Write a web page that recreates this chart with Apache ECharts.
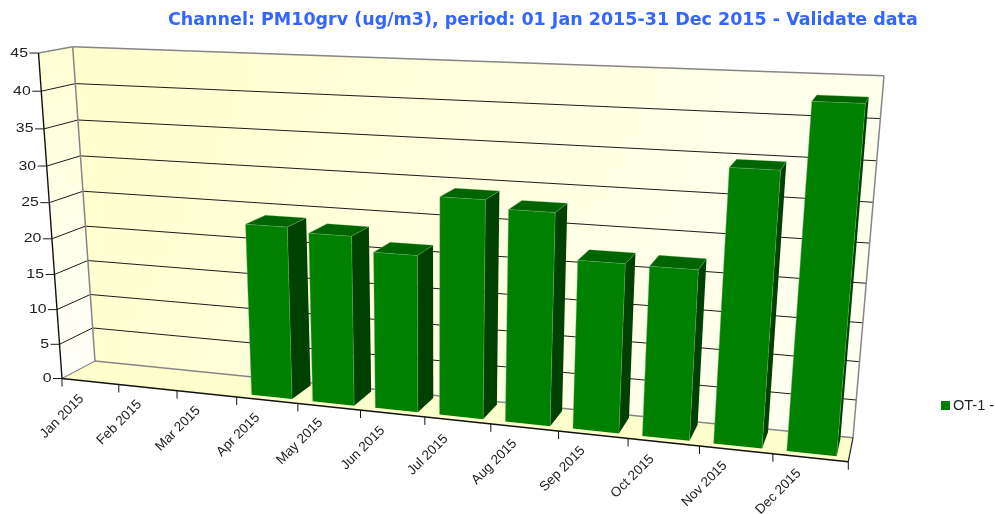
<!DOCTYPE html>
<html><head><meta charset="utf-8">
<style>html,body{margin:0;padding:0;background:#fff;overflow:hidden}#c{width:995px;height:514px}</style>
<script src="https://cdn.jsdelivr.net/npm/echarts@6/dist/echarts.min.js"></script>
</head><body><div id="c"></div>
<script>
const categories = ['Jan 2015','Feb 2015','Mar 2015','Apr 2015','May 2015','Jun 2015','Jul 2015','Aug 2015','Sep 2015','Oct 2015','Nov 2015','Dec 2015'];
const seriesValues = [null,null,null,23.6,23,21.1,28.85,27.8,22,21.9,34.5,42.6];
const yTicks = [0,5,10,15,20,25,30,35,40,45];
const seriesName = 'OT-1 -';
const titleText = 'Channel: PM10grv (ug/m3), period: 01 Jan 2015-31 Dec 2015 - Validate data';

function homography(p){
  const [x0,y0]=p[0],[x1,y1]=p[1],[x2,y2]=p[2],[x3,y3]=p[3];
  const dx1=x1-x2,dx2=x3-x2,sx=x0-x1+x2-x3,dy1=y1-y2,dy2=y3-y2,sy=y0-y1+y2-y3;
  const den=dx1*dy2-dx2*dy1,g=(sx*dy2-dx2*sy)/den,h=(dx1*sy-sx*dy1)/den;
  const a=x1-x0+g*x1,b=x3-x0+h*x3,d=y1-y0+g*y1,e=y3-y0+h*y3;
  return (u,v)=>{const w=g*u+h*v+1;return [(a*u+b*v+x0)/w,(d*u+e*v+y0)/w];};
}
const frontPlane = homography([[62,378.5],[848.3,461.7],[880,84],[38.5,53]]);
const backPlane  = homography([[95,361],[853,437.7],[884,75.7],[72.7,46.7]]);
function project(u,v,z){
  const f=frontPlane(u,v),b=backPlane(u,v);
  return [f[0]+(b[0]-f[0])*z,f[1]+(b[1]-f[1])*z];
}
const G=echarts.graphic;
const poly=(points,style)=>({type:'polygon',shape:{points},style});
const line=(a,b,stroke,lineWidth)=>({type:'line',shape:{x1:a[0],y1:a[1],x2:b[0],y2:b[1]},style:{stroke,lineWidth,fill:null}});
const grad=(x,y,x2,y2,c0,c1)=>new G.LinearGradient(x,y,x2,y2,[{offset:0,color:c0},{offset:1,color:c1}]);
const LABEL='#222222', GRID='#1c1c1c', EDGE='#868686';

function normaliser(params,api){
  const cs=params.coordSys;
  const band=api.size([1,0])[0]/cs.width;
  return {
    u:i=>(api.coord([i,0])[0]-cs.x)/cs.width-band/2,
    band,
    v:val=>(cs.y+cs.height-api.coord([0,val])[1])/cs.height
  };
}

function renderFrame(params,api){
  const n=normaliser(params,api), kids=[];
  const top=n.v(yTicks[yTicks.length-1]);
  kids.push(poly([project(0,0,1),project(1,0,1),project(1,top,1),project(0,top,1)],
    {fill:grad(0,0,1,1,'#ffffcc','#fffff4')}));
  kids.push(poly([project(0,0,0),project(0,0,1),project(0,top,1),project(0,top,0)],
    {fill:grad(0,0,0,1,'#ffffd4','#fffffa')}));
  kids.push(poly([project(0,0,0),project(1,0,0),project(1,0,1),project(0,0,1)],{fill:'#ffffcc'}));
  yTicks.forEach(t=>{
    const v=n.v(t),f=project(0,v,0),b=project(0,v,1),r=project(1,v,1);
    if(t!==0 && t!==yTicks[yTicks.length-1]){
      kids.push(line(f,b,GRID,1),line(b,r,GRID,1));
    }
    kids.push(line([f[0]-9,f[1]],f,GRID,1));
    kids.push({type:'text',x:f[0]-10.5,y:f[1],scaleX:1.22,
      style:{text:String(t),x:0,y:0,align:'right',verticalAlign:'middle',
      font:'13px "Liberation Sans"',fill:LABEL}});
  });
  kids.push(line(project(0,top,0),project(0,top,1),EDGE,1.5));
  kids.push(line(project(0,top,1),project(1,top,1),EDGE,1.5));
  kids.push(line(project(1,top,1),project(1,0,1),EDGE,1.5));
  kids.push(line(project(0,top,1),project(0,0,1),EDGE,1.5));
  kids.push(line(project(0,0,1),project(1,0,1),EDGE,1.5));
  kids.push(line(project(0,0,0),project(0,0,1),EDGE,1.2));
  kids.push(line(project(1,0,0),project(1,0,1),'#222',1.2));
  kids.push(line(project(0,0,0),project(0,top,0),'#111',1.4));
  kids.push(line(project(0,0,0),project(1,0,0),'#111',1.4));
  for(let i=0;i<=categories.length;i++){
    const p=project(i===categories.length?1:n.u(i),0,0);
    kids.push(line(p,[p[0],p[1]+8],'#111',1));
    if(i<categories.length){
      const frac=i/categories.length;
      kids.push({type:'text',x:p[0]+frac*6,y:p[1]+38,rotation:Math.PI/4,
        style:{text:categories[i],x:0,y:0,align:'center',verticalAlign:'middle',font:'13.5px "Liberation Sans"',fill:LABEL}});
    }
  }
  return {type:'group',children:kids};
}

function renderBar(params,api){
  const n=normaliser(params,api);
  const i=api.value(0),val=api.value(1);
  const v=n.v(val),left=n.u(i)+n.band*0.17,right=n.u(i)+n.band*0.835;
  const z0=0.17,z1=0.88;
  const fbl=project(left,0,z0),fbr=project(right,0,z0),ftl=project(left,v,z0),ftr=project(right,v,z0);
  const bbr=project(right,0,z1),btr=project(right,v,z1),btl=project(left,v,z1);
  const edge='rgba(110,180,110,0.65)';
  return {type:'group',children:[
    poly([fbr,bbr,btr,ftr],{fill:'#004000'}),
    poly([ftl,ftr,btr,btl],{fill:'#006400'}),
    poly([fbl,fbr,ftr,ftl],{fill:'#008000'}),
    line(ftl,fbl,edge,0.6),line(ftl,ftr,edge,0.6),line(ftr,fbr,edge,0.6),
    line(ftl,btl,edge,0.6),line(ftr,btr,edge,0.6),line(btl,btr,edge,0.4)
  ]};
}

const chart=echarts.init(document.getElementById('c'),null,{renderer:'canvas'});
chart.setOption({
  animation:false,
  backgroundColor:'#ffffff',
  title:{text:titleText,left:168,top:11,padding:0,
    textStyle:{color:'#3366ff',fontFamily:'DejaVu Sans',fontWeight:'bold',fontSize:17.5}},
  legend:{data:[seriesName],left:941,top:398,padding:0,icon:'rect',itemWidth:9,itemHeight:9,itemGap:0,
    selectedMode:false,textStyle:{color:LABEL,fontFamily:'Liberation Sans',fontSize:14.5,padding:[0,0,0,-2]}},
  tooltip:{show:false},
  grid:{left:62,top:53,width:787,height:325},
  xAxis:{type:'category',data:categories,show:false},
  yAxis:{type:'value',min:0,max:45,interval:5,show:false},
  series:[
    {type:'custom',name:'frame',silent:true,clip:false,renderItem:renderFrame,data:[[0,0]],z:1},
    {type:'custom',name:seriesName,silent:true,clip:false,renderItem:renderBar,itemStyle:{color:'#008000'},
     encode:{x:0,y:1},z:2,
     data:seriesValues.map((v,i)=>[i,v]).filter(d=>d[1]!==null)}
  ]
});
</script></body></html>
